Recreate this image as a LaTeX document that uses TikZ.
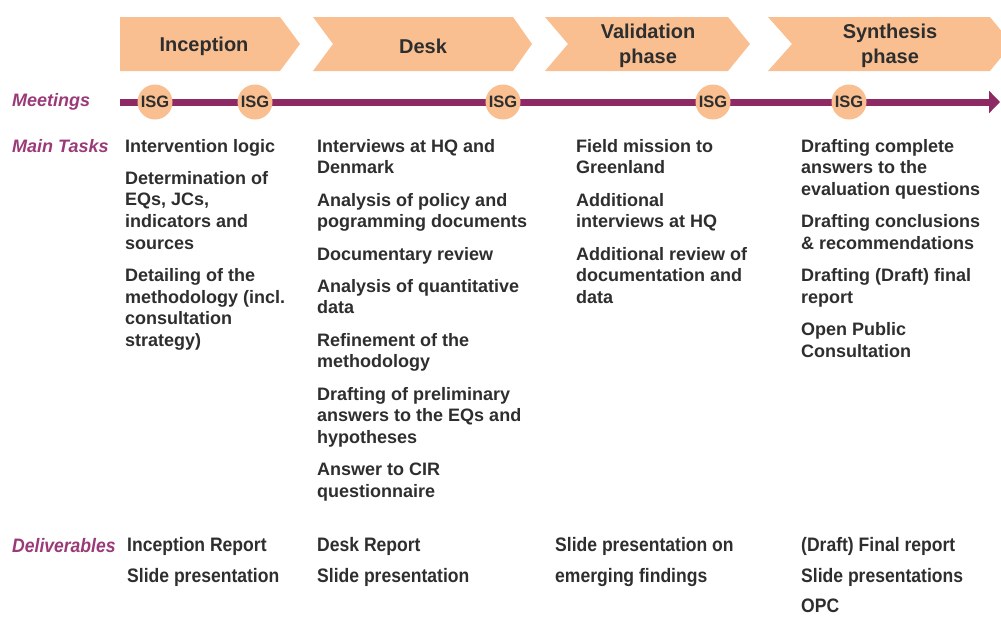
\documentclass[tikz,border=0pt]{standalone}
\usepackage{fontspec}
\setmainfont{Liberation Sans}
\newfontfamily\narrowfont{Liberation Sans}[FakeStretch=0.9]
\usetikzlibrary{arrows.meta}
\definecolor{peach}{HTML}{F9BF91}
\definecolor{plum}{HTML}{8E2A63}
\definecolor{plumtext}{HTML}{9A3A78}
\definecolor{ink}{HTML}{2E2E2E}
\begin{document}
\begin{tikzpicture}[x=1pt,y=-1pt,
  chev/.style={fill=peach,draw=none},
  phaselabel/.style={font=\fontsize{20}{25}\selectfont\bfseries,text=ink,align=center,inner sep=0},
  rowlabel/.style={font=\fontsize{18}{21}\selectfont\bfseries\itshape,text=plumtext,anchor=base west,inner sep=0},
  delivlabel/.style={font=\narrowfont\fontsize{19.5}{21}\selectfont\bfseries\itshape,text=plumtext,anchor=base west,inner sep=0},
  isg/.style={circle,fill=peach,minimum size=35pt,inner sep=0,font=\fontsize{16.5}{16.5}\selectfont\bfseries,text=ink},
  task/.style={font=\fontsize{18}{21.7}\selectfont\bfseries,text=ink,align=left,anchor=north west,inner sep=0},
  deliv/.style={font=\narrowfont\fontsize{19.5}{30.2}\selectfont\bfseries,text=ink,align=left,anchor=north west,inner sep=0},
  timeline/.style={draw=plum,line width=7pt,-{Triangle[length=11pt,width=22pt]}}
]
\useasboundingbox (0,0) rectangle (1001,616);

% phase chevrons
\path[chev] (120,17) -- (280,17) -- (300,44) -- (280,71) -- (120,71) -- cycle;
\path[chev] (313,17) -- (513,17) -- (532,44) -- (513,71) -- (313,71) -- (333,44) -- cycle;
\path[chev] (545,17) -- (728,17) -- (750,44) -- (728,71) -- (545,71) -- (568,44) -- cycle;
\path[chev] (768,17) -- (990,17) -- (1012,44) -- (990,71) -- (768,71) -- (792,44) -- cycle;
\node[phaselabel] (p1) at (204,46.5) {Inception};
\node[phaselabel] (p2) at (423,46.5) {Desk};
\node[phaselabel] (p3) at (648,45.5) {Validation\\phase};
\node[phaselabel] (p4) at (890,45.5) {Synthesis\\phase};

% row labels
\node[rowlabel] (lm) at (12,106) {Meetings};
\node[rowlabel] (lt) at (12,152) {Main Tasks};
\node[delivlabel] (ld) at (12,552) {Deliverables};

% timeline
\coordinate (tl0) at (120,102);
\coordinate (tl1) at (1000,102);
\draw[timeline] (tl0) -- (tl1);
\node[isg] (m1) at (155,102) {ISG};
\node[isg] (m2) at (255,102) {ISG};
\node[isg] (m3) at (503,102) {ISG};
\node[isg] (m4) at (713,102) {ISG};
\node[isg] (m5) at (849,102) {ISG};

% main tasks
\node[task] (t1) at (125,139) {Intervention logic\\[10.3pt]
Determination of\\EQs, JCs,\\indicators and\\sources\\[10.3pt]
Detailing of the\\methodology (incl.\\consultation\\strategy)};
\node[task] (t2) at (317,139) {Interviews at HQ and\\Denmark\\[10.5pt]
Analysis of policy and\\pogramming documents\\[10.5pt]
Documentary review\\[10.5pt]
Analysis of quantitative\\data\\[10.5pt]
Refinement of the\\methodology\\[10.5pt]
Drafting of preliminary\\answers to the EQs and\\hypotheses\\[10.5pt]
Answer to CIR\\questionnaire};
\node[task] (t3) at (576,139) {Field mission to\\Greenland\\[10.5pt]
Additional\\interviews at HQ\\[10.5pt]
Additional review of\\documentation and\\data};
\node[task] (t4) at (801,139) {Drafting complete\\answers to the\\evaluation questions\\[10.5pt]
Drafting conclusions\\\& recommendations\\[10.5pt]
Drafting (Draft) final\\report\\[10.5pt]
Open Public\\Consultation};

% deliverables
\node[deliv] (d1) at (127,537.5) {Inception Report\\Slide presentation};
\node[deliv] (d2) at (317,537.5) {Desk Report\\Slide presentation};
\node[deliv] (d3) at (555,537.5) {Slide presentation on\\emerging findings};
\node[deliv] (d4) at (801,537.5) {(Draft) Final report\\Slide presentations\\OPC};
\end{tikzpicture}
\end{document}
